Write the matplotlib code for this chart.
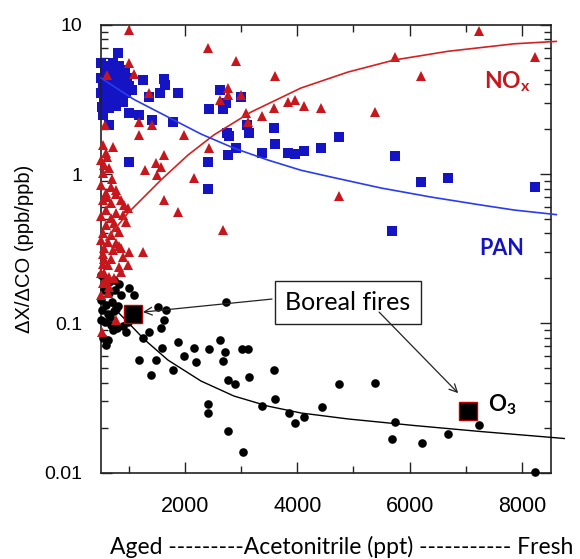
import matplotlib
matplotlib.use("Agg")
import matplotlib.pyplot as plt
from matplotlib.ticker import LogLocator, FixedLocator, NullFormatter, FuncFormatter

plt.rcParams["mathtext.fontset"] = "custom"
plt.rcParams["mathtext.rm"] = "Lato"
plt.rcParams["mathtext.bf"] = "Lato:bold"

# O3 (black circles)
o3_x = [499, 571, 642, 731, 820, 553, 642, 749, 856, 499, 589, 696, 802, 517, 624, 731,
        571, 678, 785, 892, 981, 499, 535, 589, 713, 945, 624, 660, 760,
        999, 1088, 1516, 1659, 1623, 1569, 1355, 1248, 1177, 1391, 1480, 1587, 1783, 1873,
        1980, 2158, 2194, 2425, 2622, 2711, 2675, 2764, 2889, 3139, 3014, 3121, 2408, 2408,
        2764, 3032, 3371, 3585, 3602, 3852, 3959, 4120, 4441, 4744, 5386, 5743, 5689, 6224,
        6688, 7241, 8239, 2729]
o3_y = [0.211, 0.201, 0.189, 0.195, 0.183, 0.167, 0.160, 0.167, 0.155, 0.143, 0.133, 0.139,
        0.131, 0.123, 0.115, 0.121, 0.102, 0.097, 0.093, 0.096, 0.102, 0.105, 0.080, 0.0715,
        0.090, 0.087, 0.077, 0.110, 0.125,
        0.172, 0.155, 0.129, 0.123, 0.105, 0.093, 0.087, 0.080, 0.057, 0.045, 0.057, 0.068,
        0.049, 0.075, 0.060, 0.068, 0.055, 0.067, 0.077, 0.064, 0.056, 0.042, 0.039, 0.044,
        0.067, 0.067, 0.029, 0.025, 0.019, 0.0137, 0.028, 0.049, 0.031, 0.025, 0.0215,
        0.0236, 0.0275, 0.039, 0.040, 0.0218, 0.0168, 0.0158, 0.0181, 0.0208, 0.0101, 0.139]

# NOx (red triangles)
nox_x = [999, 2408, 2907, 999, 1088, 606, 3602, 1355, 2764, 2764, 2622, 2996, 3085, 3121,
         1177, 1409, 1177, 1980, 571, 3585, 3371, 3834, 3959, 4120, 4423, 5386, 5743, 6206,
         7241, 8239, 2425, 713, 1623, 1480, 1284, 1569, 1498, 2158, 1623, 1873, 2675, 1248,
         4744, 767, 517,
         535, 589, 499, 553, 642, 535, 499, 678, 767, 589, 767, 535, 678, 856, 910, 981, 589,
         767, 499, 678, 892, 589, 767, 945, 535, 678, 820, 499, 624, 767, 553, 713, 856, 535,
         678, 892, 999, 624, 820, 981, 535, 553, 642, 535, 624, 499, 589, 856, 499,
         700, 610, 740, 560, 820, 650, 730, 600]
nox_y = [9.2, 6.98, 5.71, 5.53, 4.67, 4.60, 4.53, 3.49, 3.77, 3.38, 3.13, 3.38, 2.56, 2.23,
         2.23, 2.13, 1.82, 1.82, 2.13, 2.77, 2.44, 3.03, 3.13, 2.85, 2.77, 2.60, 6.08, 4.53,
         9.08, 6.08, 1.49, 1.51, 1.34, 1.18, 1.06, 1.11, 0.98, 0.94, 0.67, 0.56, 0.42, 0.30,
         0.71, 0.105, 0.0875,
         1.56, 1.38, 1.24, 1.15, 1.10, 1.02, 0.85, 0.82, 0.78, 0.75, 0.73, 0.67, 0.64, 0.67,
         0.62, 0.59, 0.57, 0.55, 0.52, 0.51, 0.53, 0.455, 0.44, 0.48, 0.40, 0.39, 0.41, 0.36,
         0.35, 0.345, 0.32, 0.31, 0.32, 0.29, 0.27, 0.28, 0.30, 0.245, 0.24, 0.245, 0.25,
         0.217, 0.204, 0.186, 0.16, 0.155, 0.195, 0.22, 0.217,
         0.92, 0.70, 0.47, 0.27, 0.33, 0.175, 0.20, 1.30]

# PAN (blue squares)
pan_x = [802, 1248, 1623, 1641, 1552, 1355, 1873, 999, 1177, 1409, 1783, 535, 642, 999,
         2408, 2408, 2622, 2425, 2675, 2729, 2996, 3103, 3139, 2746, 2782, 2907, 2764, 3371,
         3585, 3602, 3834, 3959, 4120, 4423, 4744, 5743, 6206, 6688, 8239, 5689,
         499, 606, 713, 820, 571, 678, 802, 927, 499, 606, 731, 838, 963, 535, 642, 767, 874,
         999, 499, 606, 731, 838, 945, 1052, 553, 678, 785, 892, 517, 642, 767]
pan_y = [6.46, 4.27, 4.33, 3.95, 3.49, 3.28, 3.49, 2.56, 2.48, 2.30, 2.23, 2.48, 2.13, 1.20,
         1.20, 0.794, 3.66, 2.72, 2.72, 2.99, 3.28, 2.13, 1.88, 1.88, 1.80, 1.49, 1.34, 1.38,
         2.03, 1.59, 1.38, 1.36, 1.43, 1.49, 1.77, 1.32, 0.883, 0.939, 0.818, 0.415,
         5.53, 5.29, 5.53, 5.29, 4.82, 4.97, 4.82, 4.97, 4.40, 4.27, 4.40, 4.27, 4.40, 3.89,
         3.77, 3.89, 3.77, 3.89, 3.49, 3.38, 3.49, 3.38, 3.49, 3.66, 3.13, 3.04, 3.13, 3.04,
         2.81, 2.77, 2.85]

# fit curves
nox_fit_x = [589, 981, 1569, 2051, 2515, 3174, 4066, 4904, 5725, 6688, 7865, 8614]
nox_fit_y = [0.361, 0.548, 0.912, 1.34, 1.83, 2.60, 3.77, 4.82, 5.80, 6.64, 7.45, 7.73]
pan_fit_x = [499, 1088, 1694, 2283, 2871, 3478, 4066, 4601, 5493, 6385, 7276, 7865, 8614]
pan_fit_y = [4.40, 3.16, 2.41, 1.853, 1.49, 1.24, 1.06, 0.955, 0.806, 0.701, 0.620, 0.574, 0.535]
o3_fit_x = [678, 999, 1266, 1694, 2283, 2871, 3478, 4066, 4904, 6081, 7276, 8471, 8756]
o3_fit_y = [0.133, 0.100, 0.0785, 0.0568, 0.0411, 0.0326, 0.0279, 0.0251, 0.0229, 0.0207,
            0.01885, 0.0173, 0.01694]

# boreal fire means (big squares)
boreal_x = [1079, 7044]
boreal_y = [0.116, 0.0257]

RED = "#c8161d"
BLUE = "#1414c4"

fig = plt.figure(figsize=(5.8, 5.59), dpi=100)
ax = fig.add_axes([0.174, 0.1544, 0.776, 0.8014])
ax.set_yscale("log")

ax.plot(pan_x, pan_y, "s", color=BLUE, ms=6.6, mew=0, clip_on=False, zorder=2)
ax.plot(o3_x, o3_y, "o", color="black", ms=6.2, mew=0, clip_on=False, zorder=3)
ax.plot(nox_x, nox_y, "^", color=RED, ms=7.4, mew=0, clip_on=False, zorder=4)

ax.plot(nox_fit_x, nox_fit_y, "-", color="#d42222", lw=1.2, clip_on=False, zorder=5)
ax.plot(pan_fit_x, pan_fit_y, "-", color="#2a3cf0", lw=1.2, clip_on=False, zorder=5)
ax.plot(o3_fit_x, o3_fit_y, "-", color="black", lw=1.0, clip_on=False, zorder=5)

ax.plot(boreal_x, boreal_y, "s", color="black", ms=13.5, mec="#c00000", mew=1.0, zorder=6)

ax.set_xlim(500, 8520)
ax.set_ylim(0.01, 10)

ax.xaxis.set_major_locator(FixedLocator([2000, 4000, 6000, 8000]))
ax.xaxis.set_minor_locator(FixedLocator([1000, 3000, 5000, 7000]))
ax.yaxis.set_major_locator(LogLocator(base=10))
ax.yaxis.set_minor_locator(LogLocator(base=10, subs=range(2, 10)))
ax.yaxis.set_minor_formatter(NullFormatter())
ax.yaxis.set_major_formatter(FuncFormatter(lambda v, p: "%g" % v))

ax.tick_params(which="both", direction="in", top=True, right=True, width=1.0, color="#222222")
ax.tick_params(which="major", length=8)
ax.tick_params(which="minor", length=5)
ax.tick_params(axis="x", which="major", pad=16.5, labelsize=15.5)
ax.tick_params(axis="y", which="major", pad=13.5, labelsize=14)
for lab in ax.get_xticklabels() + ax.get_yticklabels():
    lab.set_family("Liberation Sans")
for sp in ax.spines.values():
    sp.set_linewidth(1.2)
    sp.set_color("#222222")

ax.set_ylabel("ΔX/ΔCO (ppb/ppb)", family="Liberation Sans", fontsize=14.5, labelpad=7)
fig.text(342 / 580, 1 - 547 / 559, "Aged ---------Acetonitrile (ppt) ----------- Fresh",
         family="Lato", fontsize=16.5, ha="center", va="center")

# labels for species
ax.text(7330, 3.77, r"$\mathbf{NO_x}$", color=RED, fontsize=16.5, ha="left", va="baseline")
ax.text(7633, 0.287, "PAN", color=BLUE, family="Lato", fontweight="bold", fontsize=15.5,
        ha="center", va="baseline")
ax.text(7401, 0.0256, r"$\mathbf{O_3}$", color="black", fontsize=16, ha="left", va="baseline")

# Boreal fires callout
ax.text(4904, 0.139, "Boreal fires", family="Lato", fontsize=18, ha="center", va="center",
        bbox=dict(boxstyle="square,pad=0.4", fc="white", ec="#222222", lw=1.0), zorder=7)
arrow = dict(arrowstyle="->", color="#222222", lw=0.9, shrinkA=0, shrinkB=0, mutation_scale=14)
ax.annotate("", xy=(1248, 0.119), xytext=(3549, 0.1455), arrowprops=arrow, zorder=6)
ax.annotate("", xy=(6866, 0.0341), xytext=(5457, 0.119), arrowprops=arrow, zorder=8)

fig.savefig("out.png", dpi=100)
